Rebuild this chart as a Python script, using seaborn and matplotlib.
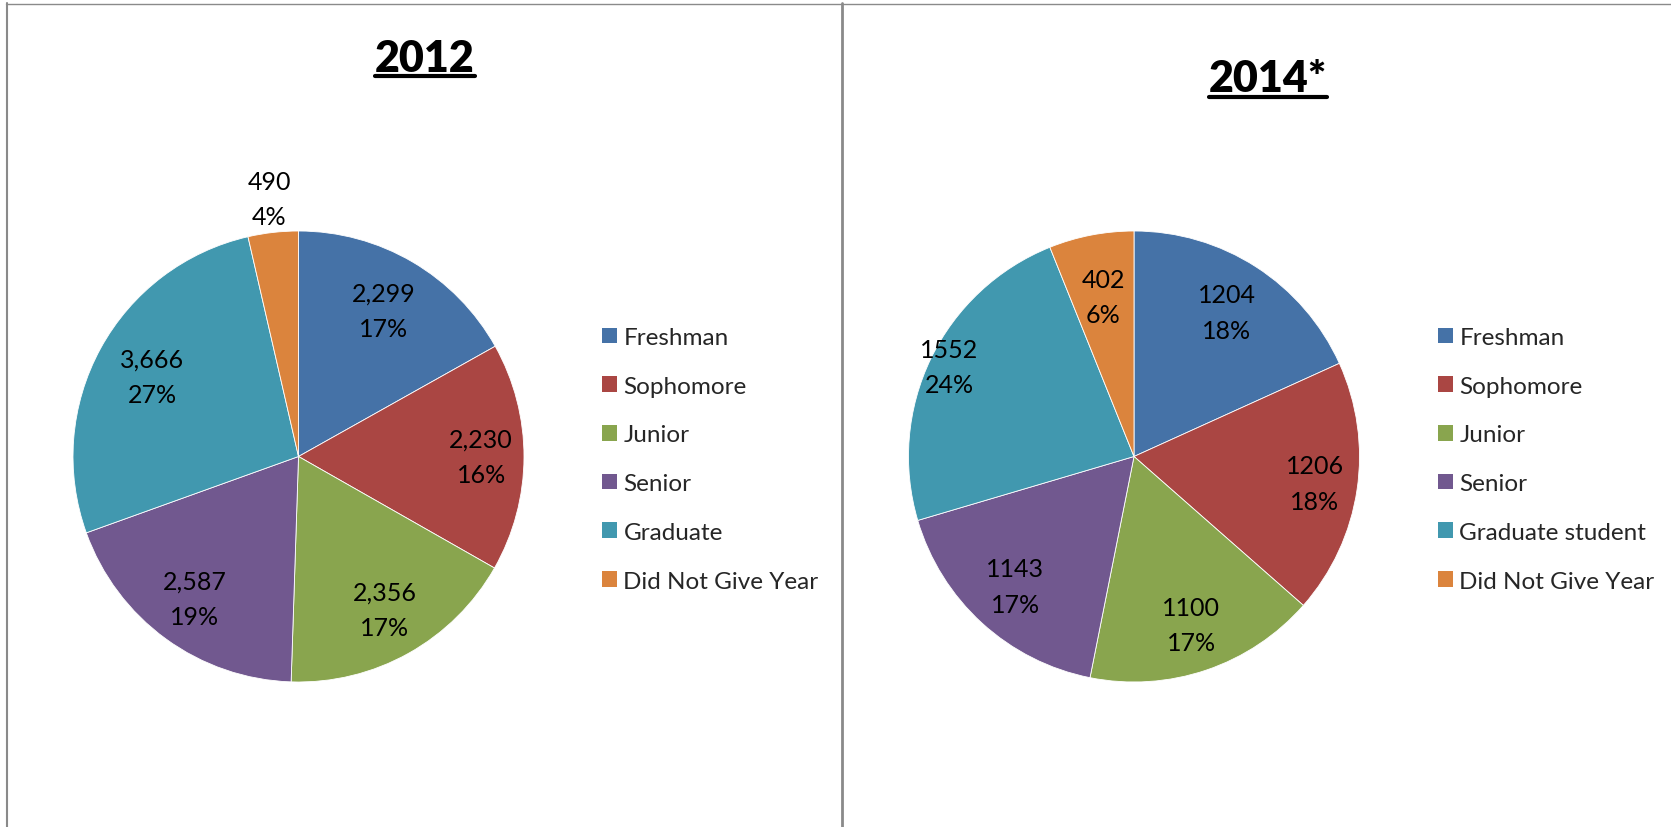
import numpy as np
import matplotlib
matplotlib.use("Agg")
import matplotlib.pyplot as plt
import seaborn as sns
from matplotlib.patches import Patch
from matplotlib.lines import Line2D

# ---------------- data ----------------
categories_2012 = ["Freshman", "Sophomore", "Junior", "Senior", "Graduate", "Did Not Give Year"]
values_2012 = [2299, 2230, 2356, 2587, 3666, 490]
value_labels_2012 = ["2,299", "2,230", "2,356", "2,587", "3,666", "490"]
pct_labels_2012 = ["17%", "16%", "17%", "19%", "27%", "4%"]

categories_2014 = ["Freshman", "Sophomore", "Junior", "Senior", "Graduate student", "Did Not Give Year"]
values_2014 = [1204, 1206, 1100, 1143, 1552, 402]
value_labels_2014 = ["1204", "1206", "1100", "1143", "1552", "402"]
pct_labels_2014 = ["18%", "18%", "17%", "17%", "24%", "6%"]

titles = ["2012", "2014*"]

# ---------------- style ----------------
sns.set_theme(style="white")
plt.rcParams["font.family"] = ["Lato", "DejaVu Sans"]
colors = sns.color_palette(["#4572A7", "#AA4643", "#89A54E", "#71588F", "#4198AF", "#DB843D"])

W, H = 1671, 828
fig = plt.figure(figsize=(W / 100, H / 100), dpi=100)
fig.patch.set_facecolor("white")

def px(x, y):
    return x / W, 1 - y / H

# frame lines
grey = "#8a8a8a"
fig.add_artist(Line2D([px(6, 0)[0], 1], [px(0, 4.5)[1]] * 2, color=grey, lw=1.0))
fig.add_artist(Line2D([px(7, 0)[0]] * 2, [0, px(0, 4)[1]], color=grey, lw=1.5))
fig.add_artist(Line2D([px(842, 0)[0]] * 2, [0, px(0, 4)[1]], color=grey, lw=2.0))

R = 225.5
panels = [
    dict(cx=298.5, cy=457.5, vals=values_2012, cats=categories_2012, vl=value_labels_2012,
         pl=pct_labels_2012, dist=[0.75, 0.81, 0.78, 0.78, 0.74, 1.15],
         title=titles[0], tx=425, ty=72, ul=77, leg_x=603),
    dict(cx=1134, cy=457.5, vals=values_2014, cats=categories_2014, vl=value_labels_2014,
         pl=pct_labels_2014, dist=[0.76, 0.81, 0.79, 0.78, 0.91, 0.72],
         title=titles[1], tx=1268, ty=92, ul=98, leg_x=1439),
]

renderer = fig.canvas.get_renderer()
for p in panels:
    l, b = px(p["cx"] - R, p["cy"] + R)
    ax = fig.add_axes([l, b, 2 * R / W, 2 * R / H])
    wedges, _ = ax.pie(p["vals"], colors=colors, startangle=90, counterclock=False,
                       radius=1.0, wedgeprops=dict(edgecolor="white", linewidth=0.6))
    ax.set_xlim(-1, 1)
    ax.set_ylim(-1, 1)
    ax.set_aspect("auto")
    ax.axis("off")
    for w, d, v, pc in zip(wedges, p["dist"], p["vl"], p["pl"]):
        ang = np.deg2rad((w.theta1 + w.theta2) / 2)
        ax.text(d * np.cos(ang), d * np.sin(ang), f"{v}\n{pc}", ha="center", va="center",
                fontsize=18, linespacing=1.65, color="black", clip_on=False)

    # title with underline
    t = fig.text(*px(p["tx"], p["ty"]), p["title"], ha="center", va="baseline",
                 fontsize=31, fontweight="heavy", color="black")
    bb = t.get_window_extent(renderer=renderer)
    fig.add_artist(Line2D([bb.x0 / W, bb.x1 / W], [px(0, p["ul"])[1]] * 2, color="black", lw=3))

    handles = [Patch(facecolor=c, edgecolor="none") for c in colors]
    fig.legend(handles, p["cats"], loc="upper left",
               bbox_to_anchor=px(p["leg_x"] - 1, 328), frameon=False,
               fontsize=17.5, handlelength=0.62, handleheight=0.62, handletextpad=0.26,
               labelspacing=1.14, borderpad=0, borderaxespad=0)

fig.savefig("out.png", dpi=100, facecolor="white")
